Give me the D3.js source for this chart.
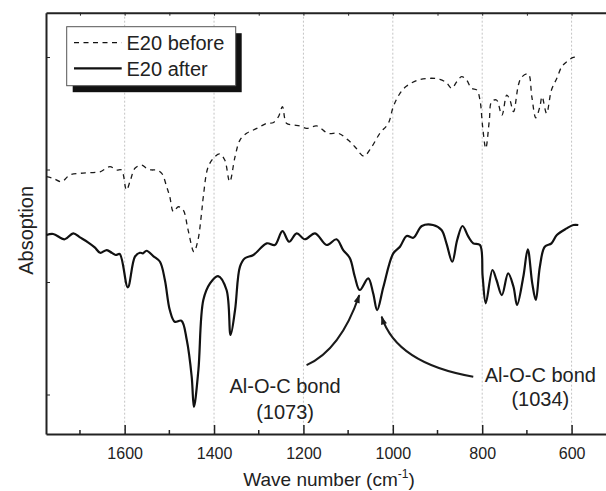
<!DOCTYPE html>
<html>
<head>
<meta charset="utf-8">
<script src="https://cdn.jsdelivr.net/npm/d3@7"></script>
<style>
  body { margin: 0; background: #fff; }
  svg { display: block; font-family: "Liberation Sans", Arial, sans-serif; }
</style>
</head>
<body>
<div id="app"></div>
<script>
// wave numbers (cm-1) and absorption values
const afterWn = [1775,1760,1734,1715,1700,1682,1667,1655,1640,1629,1620,1611,1593,1577,1566,1559,1551,1536,1521,1510,1499,1488,1473,1461,1450,1445,1435,1424,1409,1391,1372,1363,1353,1342,1331,1312,1282,1264,1247,1232,1215,1197,1174,1148,1126,1111,1096,1085,1074,1055,1044,1035,1021,999,984,969,954,935,910,891,880,867,856,844,831,820,805,799,792,777,768,756,742,730,722,708,698,688,680,671,660,645,633,611,596,585];
const afterAbs = [1.418,1.427,1.380,1.433,1.397,1.353,1.308,1.260,1.284,1.260,1.240,1.249,0.953,1.225,1.260,1.255,1.278,1.231,1.180,1.018,0.751,0.647,0.656,0.484,0.158,-0.111,0.218,0.840,0.988,1.053,0.929,0.529,0.751,1.136,1.211,1.240,1.344,1.329,1.453,1.358,1.433,1.380,1.433,1.329,1.380,1.284,1.211,1.047,0.929,1.033,0.900,0.751,0.958,1.255,1.314,1.409,1.394,1.498,1.507,1.462,1.344,1.180,1.373,1.498,1.403,1.344,1.329,1.047,0.811,1.107,1.018,0.884,1.077,0.958,0.796,1.047,1.291,0.988,0.840,1.136,1.314,1.344,1.418,1.477,1.507,1.507];

const beforeWn = [1775,1760,1741,1723,1700,1678,1655,1633,1618,1607,1596,1587,1577,1562,1551,1540,1529,1517,1506,1499,1491,1480,1469,1458,1445,1436,1428,1424,1413,1398,1387,1376,1365,1353,1342,1327,1312,1297,1282,1268,1256,1247,1238,1223,1208,1193,1170,1145,1122,1100,1085,1065,1047,1029,1010,999,984,969,943,917,895,880,868,857,846,835,824,812,805,799,792,784,779,768,756,745,738,730,719,712,697,689,680,671,666,656,645,633,622,611,596,585];
const beforeAbs = [1.936,1.922,1.892,1.951,1.966,1.972,1.980,2.025,1.996,1.996,1.818,1.907,2.011,2.040,2.011,1.996,1.996,1.966,1.847,1.758,1.625,1.669,1.640,1.462,1.269,1.373,1.611,1.758,2.025,2.114,2.138,2.084,1.892,2.114,2.262,2.322,2.351,2.380,2.411,2.416,2.469,2.558,2.411,2.396,2.387,2.366,2.387,2.322,2.322,2.262,2.203,2.120,2.203,2.322,2.411,2.558,2.677,2.742,2.796,2.811,2.802,2.772,2.722,2.780,2.825,2.796,2.722,2.707,2.618,2.380,2.188,2.440,2.603,2.618,2.484,2.662,2.618,2.514,2.751,2.820,2.849,2.647,2.460,2.558,2.647,2.500,2.707,2.811,2.914,2.958,2.997,2.997];

const seriesNames = ["E20 before", "E20 after"];
const majorTicks = [1600, 1400, 1200, 1000, 800, 600];
const minorTicks = [1700, 1500, 1300, 1100, 900, 700];
const yTicks = [0, 1, 2, 3];

// annotations: tail, control, tip in (wave number, absorption)
const arrows = [
  { tail: [1193, 0.262], ctrl: [1117, 0.396], tip: [1075, 0.884] },
  { tail: [820, 0.158], ctrl: [992, 0.277], tip: [1025, 0.692] }
];
const notes = [
  { wn: 1241, lines: ["Al-O-C bond", "(1073)"], y: [0.011, -0.218] },
  { wn: 670, lines: ["Al-O-C bond", "(1034)"], y: [0.114, -0.102] }
];

const W = 606, H = 491;
const mLeft = 46, mRight = 606, mTop = 12.7, mBottom = 434;

const svg = d3.select("#app").append("svg")
  .attr("width", W)
  .attr("height", H);

const x = d3.scaleLinear().domain([1776, 523]).range([mLeft, mRight]);
const y = d3.scaleLinear().domain([-0.351, 3.394]).range([mBottom, mTop]);

const defs = svg.append("defs");
defs.append("clipPath").attr("id", "clip")
  .append("rect").attr("x", mLeft).attr("y", mTop).attr("width", mRight - mLeft).attr("height", mBottom - mTop);

defs.append("marker")
  .attr("id", "head")
  .attr("viewBox", "0 -4 10 8")
  .attr("refX", 9)
  .attr("refY", 0)
  .attr("markerUnits", "userSpaceOnUse")
  .attr("markerWidth", 11)
  .attr("markerHeight", 7)
  .attr("orient", "auto")
  .append("path")
  .attr("d", "M0,-3.5L10,0L0,3.5Z")
  .attr("fill", "#1a1a1a");

// vertical grid lines at the labelled ticks
svg.append("g")
  .selectAll("line")
  .data(majorTicks)
  .join("line")
  .attr("x1", d => x(d)).attr("x2", d => x(d))
  .attr("y1", mTop).attr("y2", mBottom)
  .attr("stroke", "#c4c4c4")
  .attr("stroke-width", 1)
  .attr("stroke-dasharray", "2,2");

// bottom axis
const xAxis = d3.axisBottom(x)
  .tickValues(majorTicks)
  .tickSizeInner(-9)
  .tickSizeOuter(0)
  .tickPadding(14)
  .tickFormat(d3.format("d"));
const gx = svg.append("g").attr("transform", `translate(0,${mBottom})`).call(xAxis);
gx.select(".domain").attr("stroke", "#222").attr("stroke-width", 2);
gx.selectAll(".tick line").attr("stroke", "#222").attr("stroke-width", 1.5);
gx.selectAll(".tick text").attr("font-size", 16).attr("fill", "#222")
  .attr("font-family", "Liberation Sans, Arial, sans-serif");

gx.selectAll(".minor")
  .data(minorTicks)
  .join("line")
  .attr("class", "minor")
  .attr("x1", d => x(d)).attr("x2", d => x(d))
  .attr("y1", 0).attr("y2", -4)
  .attr("stroke", "#222").attr("stroke-width", 1.5);

// top axis (mirror)
const xTop = d3.axisTop(x)
  .tickValues(majorTicks.concat(minorTicks))
  .tickSizeInner(-3)
  .tickSizeOuter(0)
  .tickFormat("");
const gt = svg.append("g").attr("transform", `translate(0,${mTop})`).call(xTop);
gt.select(".domain").attr("stroke", "#222").attr("stroke-width", 2);
gt.selectAll(".tick line").attr("stroke", "#222").attr("stroke-width", 1);

// left axis, no labels
const yAxis = d3.axisLeft(y)
  .tickValues(yTicks)
  .tickSizeInner(-4)
  .tickSizeOuter(0)
  .tickFormat("");
const gy = svg.append("g").attr("transform", `translate(${mLeft},0)`).call(yAxis);
gy.select(".domain").attr("stroke", "#222").attr("stroke-width", 2);
gy.selectAll(".tick line").attr("stroke", "#222").attr("stroke-width", 1);

// spectra
const line = d3.line()
  .x(d => x(d[0]))
  .y(d => y(d[1]))
  .curve(d3.curveCatmullRom.alpha(0.5));

const plot = svg.append("g").attr("clip-path", "url(#clip)");

plot.append("path")
  .datum(d3.zip(beforeWn, beforeAbs))
  .attr("d", line)
  .attr("fill", "none")
  .attr("stroke", "#1a1a1a")
  .attr("stroke-width", 1.3)
  .attr("stroke-dasharray", "5,4.5");

plot.append("path")
  .datum(d3.zip(afterWn, afterAbs))
  .attr("d", line)
  .attr("fill", "none")
  .attr("stroke", "#111")
  .attr("stroke-width", 2.2);

// arrows
svg.append("g")
  .selectAll("path")
  .data(arrows)
  .join("path")
  .attr("d", d => {
    const p = d3.path();
    p.moveTo(x(d.tail[0]), y(d.tail[1]));
    p.quadraticCurveTo(x(d.ctrl[0]), y(d.ctrl[1]), x(d.tip[0]), y(d.tip[1]));
    return p.toString();
  })
  .attr("fill", "none")
  .attr("stroke", "#1a1a1a")
  .attr("stroke-width", 2)
  .attr("marker-end", "url(#head)");

// annotation texts
notes.forEach(n => {
  n.lines.forEach((t, i) => {
    svg.append("text")
      .attr("x", x(n.wn))
      .attr("y", y(n.y[i]))
      .attr("text-anchor", "middle")
      .attr("font-size", 20)
      .attr("fill", "#222")
      .text(t);
  });
});

// legend
const lg = svg.append("g");
lg.append("rect")
  .attr("x", 72.7).attr("y", 33.2)
  .attr("width", 169).attr("height", 59)
  .attr("fill", "#111");
lg.append("rect")
  .attr("x", 66.7).attr("y", 26.7)
  .attr("width", 169).attr("height", 59)
  .attr("fill", "#fff")
  .attr("stroke", "#555")
  .attr("stroke-width", 1);

const legendRows = [
  { name: seriesNames[0], dash: "5,4.5", w: 1.3, ly: 42.7, ty: 50 },
  { name: seriesNames[1], dash: null, w: 2.2, ly: 68.3, ty: 75.5 }
];
legendRows.forEach(r => {
  lg.append("line")
    .attr("x1", 74).attr("x2", 121.7)
    .attr("y1", r.ly).attr("y2", r.ly)
    .attr("stroke", "#111")
    .attr("stroke-width", r.w)
    .attr("stroke-dasharray", r.dash);
  lg.append("text")
    .attr("x", 126.5).attr("y", r.ty)
    .attr("font-size", 20)
    .attr("fill", "#222")
    .text(r.name);
});

// axis titles
const xt = svg.append("text")
  .attr("x", (mLeft + mRight) / 2 + 3)
  .attr("y", 486)
  .attr("text-anchor", "middle")
  .attr("font-size", 19)
  .attr("fill", "#222");
xt.append("tspan").text("Wave number (cm");
xt.append("tspan").attr("dy", -8).attr("font-size", 12).text("-1");
xt.append("tspan").attr("dy", 8).text(")");

svg.append("text")
  .attr("transform", `translate(33,${(mTop + mBottom) / 2 + 7}) rotate(-90)`)
  .attr("text-anchor", "middle")
  .attr("font-size", 20)
  .attr("fill", "#222")
  .text("Absoption");
</script>
</body>
</html>
